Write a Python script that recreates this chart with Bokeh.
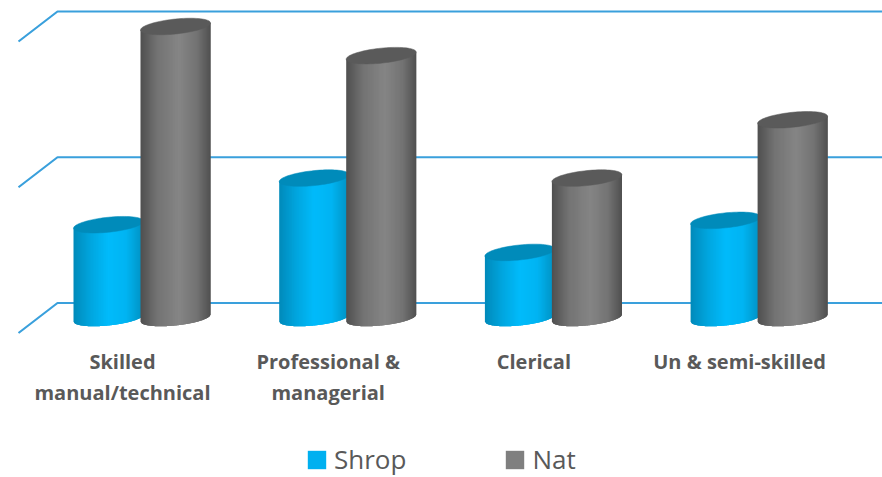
import math
from bokeh.plotting import figure
from bokeh.layouts import column
from bokeh.models import Range1d, LinearAxis, FixedTicker, Legend, LegendItem
from bokeh.embed import file_html
from bokeh.resources import INLINE

categories = ["Skilled\nmanual/technical", "Professional &\nmanagerial", "Clerical", "Un & semi-skilled"]
shrop = [6.4, 9.6, 4.5, 6.7]
nat = [20.0, 18.0, 9.6, 13.6]
grid_values = [0, 10, 20]
series_names = ["Shrop", "Nat"]
series_colors = ["#00B0F0", "#7F7F7F"]

W, H, FRAME_H, CHART_H = 882, 477, 340, 408
PX_PER_CAT, PX_PER_VAL = 205.7, 14.575
X0_PX, Y0_PX = 122.0, 317.5

x_range = Range1d(-X0_PX / PX_PER_CAT, (W - X0_PX) / PX_PER_CAT)
y_range = Range1d((Y0_PX - FRAME_H) / PX_PER_VAL, Y0_PX / PX_PER_VAL)

p = figure(width=W, height=CHART_H, frame_width=W, frame_height=FRAME_H, x_range=x_range, y_range=y_range,
           output_backend="svg", toolbar_location=None, min_border=0,
           x_axis_location=None, y_axis_location=None)
p.grid.visible = False
p.outline_line_color = None
p.background_fill_color = "white"

# back-wall gridlines with their perspective returns
depth_dx, depth_dy = 39 / PX_PER_CAT, 15 / PX_PER_VAL
wall_left = (57 - X0_PX) / PX_PER_CAT
wall_right = x_range.end
gx, gy = [], []
for v in grid_values:
    yb = v + depth_dy
    gx.append([wall_left - depth_dx, wall_left, wall_right])
    gy.append([yb - 2 * depth_dy, yb, yb])
p.multi_line(gx, gy, line_color="#3AA0DC", line_width=2.2)

HALF = 35 / PX_PER_CAT
TILT = 3.5 / PX_PER_VAL
B = 7.5 / PX_PER_VAL
STRIPS = 70
OVERLAP = 3 / STRIPS


def lerp_stops(u, stops):
    for (u0, c0), (u1, c1) in zip(stops, stops[1:]):
        if u <= u1:
            t = (u - u0) / (u1 - u0)
            return "#%02x%02x%02x" % tuple(round(a + (b - a) * t) for a, b in zip(c0, c1))
    return "#%02x%02x%02x" % stops[-1][1]


def draw_cylinder(cx, val, stops, cap):
    xs, ys, cols = [], [], []
    for i in range(STRIPS):
        u0 = -1 + 2 * i / STRIPS
        mid = u0 + 1 / STRIPS
        u1 = min(1.0, u0 + 2 / STRIPS + OVERLAP)
        x0, x1 = cx + u0 * HALF, cx + u1 * HALF
        def top(u):
            return val + TILT * u
        def bot(u):
            return TILT * u - B * math.sqrt(max(0, 1 - u * u))
        us = [u0 + (u1 - u0) * k / 3 for k in range(4)]
        xs.append([cx + u * HALF for u in us] + [x1, x0])
        ys.append([bot(u) for u in us] + [top(u1), top(u0)])
        cols.append(lerp_stops(mid, stops))
    p.patches(xs, ys, fill_color=cols, fill_alpha=1.0, line_color=None)
    n = 80
    ex, ey = [], []
    for k in range(n):
        t = 2 * math.pi * k / n
        ex.append(cx + HALF * math.cos(t))
        ey.append(val + TILT * math.cos(t) + B * math.sin(t))
    p.patch(ex, ey, fill_color=cap, fill_alpha=1.0, line_color=cap, line_width=0.5)


BLUE_STOPS = [(-1, (0, 0x8a, 0xba)), (-.5, (0, 0xa6, 0xdf)), (0, (0, 0xbb, 0xfb)), (.5, (0, 0xb4, 0xf2)), (1, (0, 0x90, 0xc0))]
GRAY_STOPS = [(-1, (0x50, 0x50, 0x50)), (-.5, (0x74, 0x74, 0x74)), (.1, (0x85, 0x85, 0x85)), (.6, (0x74, 0x74, 0x74)), (1, (0x50, 0x50, 0x50))]

blue_off, gray_off = -14 / PX_PER_CAT, 53 / PX_PER_CAT
for i, (a, b) in enumerate(zip(shrop, nat)):
    draw_cylinder(i + blue_off, a, BLUE_STOPS, "#008bba")
    draw_cylinder(i + gray_off, b, GRAY_STOPS, "#5a5a5a")

xaxis = LinearAxis(ticker=FixedTicker(ticks=list(range(len(categories)))),
                   major_label_overrides={i: c for i, c in enumerate(categories)},
                   major_tick_line_color=None, minor_tick_line_color=None, axis_line_color=None,
                   major_label_text_color="#595959", major_label_text_font="Open Sans",
                   major_label_text_font_size="20px", major_label_text_font_style="bold",
                   major_label_text_line_height=1.15, major_label_standoff=1, fixed_location=None)
p.add_layout(xaxis, "below")

# legend strip under the chart
q = figure(width=W, height=H - CHART_H, x_range=Range1d(0, 1), y_range=Range1d(0, 1),
           output_backend="svg", toolbar_location=None, min_border=0,
           x_axis_location=None, y_axis_location=None)
q.grid.visible = False
q.outline_line_color = None
nan = float("nan")
items = []
for name, col in zip(series_names, series_colors):
    r = q.quad(left=[nan], right=[nan], top=[nan], bottom=[nan], fill_color=col, line_color=None)
    items.append(LegendItem(label=name, renderers=[r]))
legend = Legend(items=items, orientation="horizontal", location=(305, 0), margin=0, padding=0, spacing=97,
                label_standoff=6, glyph_width=23, glyph_height=23, border_line_color=None, background_fill_alpha=0,
                label_text_font="Open Sans", label_text_font_size="26px", label_text_color="#595959")
q.add_layout(legend)

layout = column(p, q, spacing=0)
open("out.html", "w").write(file_html(layout, INLINE))
